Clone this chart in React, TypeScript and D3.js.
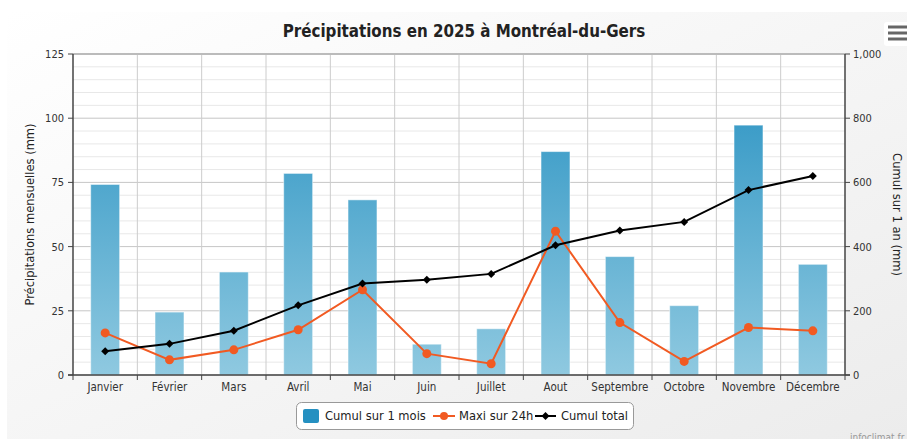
import React, { useEffect } from "react";
import * as d3 from "d3";

const months = ["Janvier", "Février", "Mars", "Avril", "Mai", "Juin", "Juillet", "Aout", "Septembre", "Octobre", "Novembre", "Décembre"];
const cumulMois = [74.2, 24.5, 40.1, 78.5, 68.2, 12.0, 18.0, 87.0, 46.1, 27.0, 97.3, 43.1];
const maxi24h = [16.4, 5.9, 9.8, 17.6, 33.2, 8.3, 4.4, 56.0, 20.4, 5.3, 18.5, 17.2];
const cumulTotal = [74, 97, 138, 217, 285, 297, 315, 404, 450, 477, 576, 620];
const leftTicks = [0, 25, 50, 75, 100, 125];
const rightTicks = [0, 200, 400, 600, 800, 1000];

const W = 907;
const H = 439;
const font = "'DejaVu Sans Condensed', 'DejaVu Sans', sans-serif";

const App = () => {
    useEffect(() => {
        document.body.style.margin = "0";
    }, []);

    // plot area
    const margin = { top: 54, right: 62, bottom: 64, left: 73 };
    const x0 = margin.left;
    const x1 = W - margin.right;
    const y0 = H - margin.bottom;
    const y1 = margin.top;

    const x = d3.scaleBand().domain(months).range([x0, x1]).paddingInner(0).paddingOuter(0);
    const yL = d3.scaleLinear().domain([0, 125]).range([y0, y1]);
    const yR = d3.scaleLinear().domain([0, 1000]).range([y0, y1]);
    const cx = (m) => x(m) + x.bandwidth() / 2;
    const barW = x.bandwidth() * 0.45;

    const maxiLine = d3.line().x((d, i) => cx(months[i])).y((d) => yL(d))(maxi24h);
    const totalLine = d3.line().x((d, i) => cx(months[i])).y((d) => yR(d))(cumulTotal);
    const diamond = d3.symbol(d3.symbolSquare, 32)();

    const minorTicks = d3.range(0, 126, 5);
    const fmt = d3.format(",");

    return (
        <svg width={W} height={H} style={{ display: "block" }} fontFamily={font}>
            <defs>
                <linearGradient id="bg" x1="0" y1="0" x2="1" y2="1">
                    <stop offset="0" stopColor="#ffffff" />
                    <stop offset="1" stopColor="#ececec" />
                </linearGradient>
                <linearGradient id="barGrad" gradientUnits="userSpaceOnUse" x1="0" y1={y1} x2="0" y2={y0}>
                    <stop offset="0" stopColor="#2590c1" />
                    <stop offset="1" stopColor="#8fc9e0" />
                </linearGradient>
            </defs>
            <rect x={0} y={0} width={W} height={H} fill="#ffffff" />
            <rect x={7} y={12} width={W - 7} height={H - 12} fill="url(#bg)" />
            <rect x={x0} y={y1} width={x1 - x0} height={y0 - y1} fill="#ffffff" />

            {/* title */}
            <text x={464} y={37} textAnchor="middle" fontSize={16.8} fontWeight="bold" fill="#222">
                Précipitations en 2025 à Montréal-du-Gers
            </text>

            {/* menu button */}
            <rect x={884} y={22} width={30} height={24} rx={3} fill="#ffffff" />
            {[27, 33, 39].map((yy) => (
                <line key={yy} x1={888} x2={907} y1={yy} y2={yy} stroke="#666" strokeWidth={3} />
            ))}

            {/* horizontal grid */}
            {minorTicks.map((t) => (
                <line key={"m" + t} x1={x0} x2={x1} y1={yL(t)} y2={yL(t)} stroke={t % 25 === 0 ? "#c6c6c6" : "#e8e8e8"} strokeWidth={1} />
            ))}
            {/* vertical grid */}
            {months.slice(1).map((m) => (
                <line key={"v" + m} x1={x(m)} x2={x(m)} y1={y1} y2={y0} stroke="#cccccc" strokeWidth={1} />
            ))}
            <line x1={x0} x2={x1} y1={y1} y2={y1} stroke="#bbbbbb" strokeWidth={2} />

            {/* bars */}
            {cumulMois.map((v, i) => (
                <rect
                    key={"b" + i}
                    x={cx(months[i]) - barW / 2}
                    y={yL(v)}
                    width={barW}
                    height={y0 - yL(v)}
                    fill="url(#barGrad)"
                    stroke="#ffffff"
                    strokeOpacity={0.5}
                    strokeWidth={1}
                />
            ))}

            {/* axes */}
            <line x1={x0} x2={x0} y1={y1} y2={y0} stroke="#444" strokeWidth={1.5} />
            <line x1={x1} x2={x1} y1={y1} y2={y0} stroke="#444" strokeWidth={1.5} />
            <line x1={x0 - 5} x2={x1 + 5} y1={y0} y2={y0} stroke="#444" strokeWidth={1.5} />
            {leftTicks.map((t) => (
                <g key={"lt" + t}>
                    <line x1={x0 - 5} x2={x0} y1={yL(t)} y2={yL(t)} stroke="#444" />
                    <text x={x0 - 9} y={yL(t) + 4} textAnchor="end" fontSize={11} fill="#333">{t}</text>
                </g>
            ))}
            {rightTicks.map((t) => (
                <g key={"rt" + t}>
                    <line x1={x1} x2={x1 + 5} y1={yR(t)} y2={yR(t)} stroke="#444" />
                    <text x={x1 + 8} y={yR(t) + 4} textAnchor="start" fontSize={11} fill="#333">{fmt(t)}</text>
                </g>
            ))}
            {months.map((m) => (
                <g key={"xt" + m}>
                    <line x1={x(m)} x2={x(m)} y1={y0} y2={y0 + 5} stroke="#444" />
                    <text x={cx(m)} y={y0 + 16} textAnchor="middle" fontSize={11.5} fill="#333">{m}</text>
                </g>
            ))}
            <line x1={x1} x2={x1} y1={y0} y2={y0 + 5} stroke="#444" />

            {/* axis titles */}
            <text transform={`translate(34,${(y0 + y1) / 2}) rotate(-90)`} textAnchor="middle" fontSize={12.8} fill="#222">
                Précipitations mensuelles (mm)
            </text>
            <text transform={`translate(893,${(y0 + y1) / 2}) rotate(90)`} textAnchor="middle" fontSize={12.8} fill="#222">
                Cumul sur 1 an (mm)
            </text>

            {/* maxi 24h */}
            <path d={maxiLine} fill="none" stroke="#f15a22" strokeWidth={2} />
            {maxi24h.map((v, i) => (
                <circle key={"c" + i} cx={cx(months[i])} cy={yL(v)} r={4.5} fill="#f15a22" />
            ))}

            {/* cumul total */}
            <path d={totalLine} fill="none" stroke="#000" strokeWidth={2} />
            {cumulTotal.map((v, i) => (
                <path key={"d" + i} d={diamond} transform={`translate(${cx(months[i])},${yR(v)}) rotate(45)`} fill="#000" />
            ))}

            {/* legend */}
            <rect x={296.5} y={402.5} width={337} height={27} rx={5} fill="#ffffff" stroke="#999" strokeWidth={1} />
            <rect x={303} y={409} width={16} height={14} rx={2} fill="#2590c1" />
            <text x={325} y={420} fontSize={12.8} fill="#222">Cumul sur 1 mois</text>
            <line x1={433} x2={455} y1={416} y2={416} stroke="#f15a22" strokeWidth={2} />
            <circle cx={444} cy={416} r={4} fill="#f15a22" />
            <text x={459} y={420} fontSize={12.8} fill="#222">Maxi sur 24h</text>
            <line x1={535} x2={556} y1={416} y2={416} stroke="#000" strokeWidth={2} />
            <path d={diamond} transform="translate(545.5,416) rotate(45)" fill="#000" />
            <text x={561} y={420} fontSize={12.8} fill="#222">Cumul total</text>

            {/* credits */}
            <text x={850} y={441} fontSize={10} fill="#999">infoclimat.fr</text>
        </svg>
    );
};

export default App;
